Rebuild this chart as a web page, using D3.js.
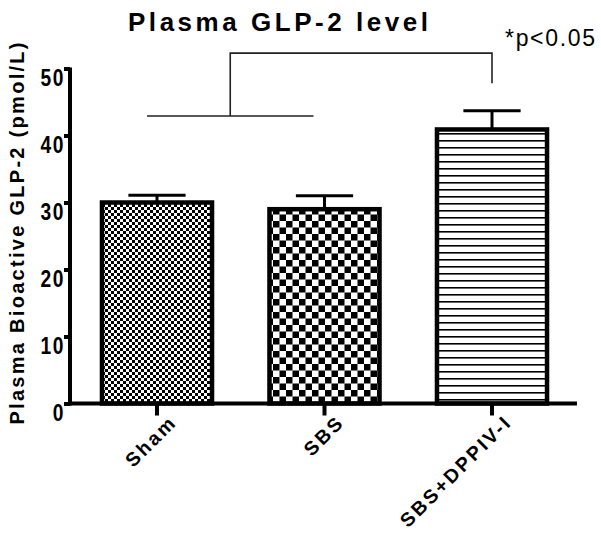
<!DOCTYPE html>
<html>
<head>
<meta charset="utf-8">
<script src="https://cdn.jsdelivr.net/npm/d3@7"></script>
<style>
  html, body { margin: 0; padding: 0; background: #fff; }
  svg { display: block; }
  text { font-family: "Liberation Sans", Arial, sans-serif; fill: #000; }
</style>
</head>
<body>
<svg id="chart" width="601" height="536"></svg>
<script>
// ---- data ----
const categories = ["Sham", "SBS", "SBS+DPPIV-I"];
const means = [30.0, 29.0, 40.9];
const sems = [1.1, 2.0, 2.8];
const patterns = ["fineChecker", "coarseChecker", "hLines"];
const yTicks = [0, 10, 20, 30, 40, 50];
const titleText = "Plasma GLP-2 level";
const yLabelText = "Plasma Bioactive GLP-2 (pmol/L)";
const sigText = "*p<0.05";
// significance bracket levels (data units)
const bracketLow = 42.9;
const bracketTop = 52.3;
const bracketRightEnd = 47.8;

const svg = d3.select("#chart");

// ---- patterns ----
const defs = svg.append("defs");
const p1 = defs.append("pattern").attr("id", "fineChecker")
  .attr("patternUnits", "userSpaceOnUse").attr("width", 6).attr("height", 6);
p1.append("rect").attr("width", 6).attr("height", 6).attr("fill", "#fff");
p1.append("rect").attr("width", 3).attr("height", 3).attr("fill", "#000");
p1.append("rect").attr("x", 3).attr("y", 3).attr("width", 3).attr("height", 3).attr("fill", "#000");

const p2 = defs.append("pattern").attr("id", "coarseChecker")
  .attr("patternUnits", "userSpaceOnUse").attr("width", 13).attr("height", 13);
p2.append("rect").attr("width", 13).attr("height", 13).attr("fill", "#fff");
p2.append("rect").attr("width", 6.5).attr("height", 6.5).attr("fill", "#000");
p2.append("rect").attr("x", 6.5).attr("y", 6.5).attr("width", 6.5).attr("height", 6.5).attr("fill", "#000");

const p3 = defs.append("pattern").attr("id", "hLines")
  .attr("patternUnits", "userSpaceOnUse").attr("width", 7).attr("height", 7);
p3.append("rect").attr("width", 7).attr("height", 7).attr("fill", "#fff");
p3.append("rect").attr("y", 0).attr("width", 7).attr("height", 1.6).attr("fill", "#000");

// ---- scales ----
const x = d3.scaleBand().domain(categories)
  .range([73.25, 575.75]).paddingInner(0.343).paddingOuter(0.1715);
const y = d3.scaleLinear().domain([0, 50]).range([403.5, 68.5]);
const cx = c => x(c) + x.bandwidth() / 2;

// ---- bars ----
const data = categories.map((c, i) => ({ c, m: means[i], s: sems[i], p: patterns[i] }));

// error bars (upper)
const eb = svg.append("g");
data.forEach(d => {
  eb.append("line").attr("x1", cx(d.c)).attr("x2", cx(d.c))
    .attr("y1", y(d.m)).attr("y2", y(d.m + d.s))
    .attr("stroke", "#000").attr("stroke-width", 3);
  eb.append("line").attr("x1", cx(d.c) - x.bandwidth() * 0.26).attr("x2", cx(d.c) + x.bandwidth() * 0.26)
    .attr("y1", y(d.m + d.s)).attr("y2", y(d.m + d.s))
    .attr("stroke", "#000").attr("stroke-width", 3);
});

svg.append("g").selectAll("rect").data(data).join("rect")
  .attr("x", d => x(d.c))
  .attr("y", d => y(d.m))
  .attr("width", x.bandwidth())
  .attr("height", d => y(0) - y(d.m))
  .attr("fill", d => `url(#${d.p})`)
  .attr("stroke", "#000")
  .attr("stroke-width", 4.5);

// ---- axes ----
const yAxis = svg.append("g").attr("transform", "translate(70,0)")
  .call(d3.axisLeft(y).tickValues(yTicks).tickSize(6).tickSizeOuter(0).tickFormat(d3.format("d")));
yAxis.select(".domain").attr("stroke", "#000").attr("stroke-width", 4).attr("d", `M0,${y(0) + 2}V${y(50) - 1}`);
yAxis.selectAll(".tick line").attr("stroke", "#000").attr("stroke-width", 4);
yAxis.selectAll(".tick text")
  .attr("x", null)
  .attr("transform", "translate(-5,0) scale(0.8,1)")
  .attr("dy", "0.72em")
  .style("font-size", "24px").style("font-weight", "bold")
  .style("letter-spacing", "2px");

const xAxis = svg.append("g").attr("transform", `translate(0,${y(0)})`)
  .call(d3.axisBottom(x).tickSize(12).tickSizeOuter(0).tickFormat(""));
xAxis.select(".domain").attr("stroke", "#000").attr("stroke-width", 4).attr("d", "M68,0H577");
xAxis.selectAll(".tick line").attr("stroke", "#000").attr("stroke-width", 4);

// x labels rotated
svg.append("g").selectAll("text").data(categories).join("text")
  .attr("transform", c => `translate(${cx(c) + 21},${y(0) + 20}) rotate(-45)`)
  .attr("text-anchor", "end")
  .style("font-size", "19.5px").style("font-weight", "bold").style("letter-spacing", "2.5px")
  .text(c => c);

// ---- title ----
svg.append("text")
  .attr("x", 128).attr("y", 31)
  .attr("textLength", 300).attr("lengthAdjust", "spacing")
  .style("font-size", "26px").style("font-weight", "bold")
  .text(titleText);

// ---- y label ----
svg.append("text")
  .attr("transform", `translate(24,${(425 + 42) / 2}) rotate(-90)`)
  .attr("text-anchor", "middle")
  .attr("textLength", 382).attr("lengthAdjust", "spacing")
  .style("font-size", "20px").style("font-weight", "bold")
  .text(yLabelText);

// ---- significance bracket ----
const leftX1 = cx(categories[0]) - 10;
const leftX2 = cx(categories[1]) - 11;
const midX = (leftX1 + leftX2) / 2;
const rightX = cx(categories[2]);
const br = svg.append("g").attr("fill", "none").attr("stroke", "#222").attr("stroke-width", 1.6);
br.append("line").attr("x1", leftX1).attr("x2", leftX2).attr("y1", y(bracketLow)).attr("y2", y(bracketLow));
br.append("path").attr("d", `M${midX},${y(bracketLow)}V${y(bracketTop)}H${rightX}V${y(bracketRightEnd)}`);

svg.append("text")
  .attr("x", 505).attr("y", 46)
  .attr("textLength", 90).attr("lengthAdjust", "spacing")
  .style("font-size", "23px")
  .text(sigText);
</script>
</body>
</html>
